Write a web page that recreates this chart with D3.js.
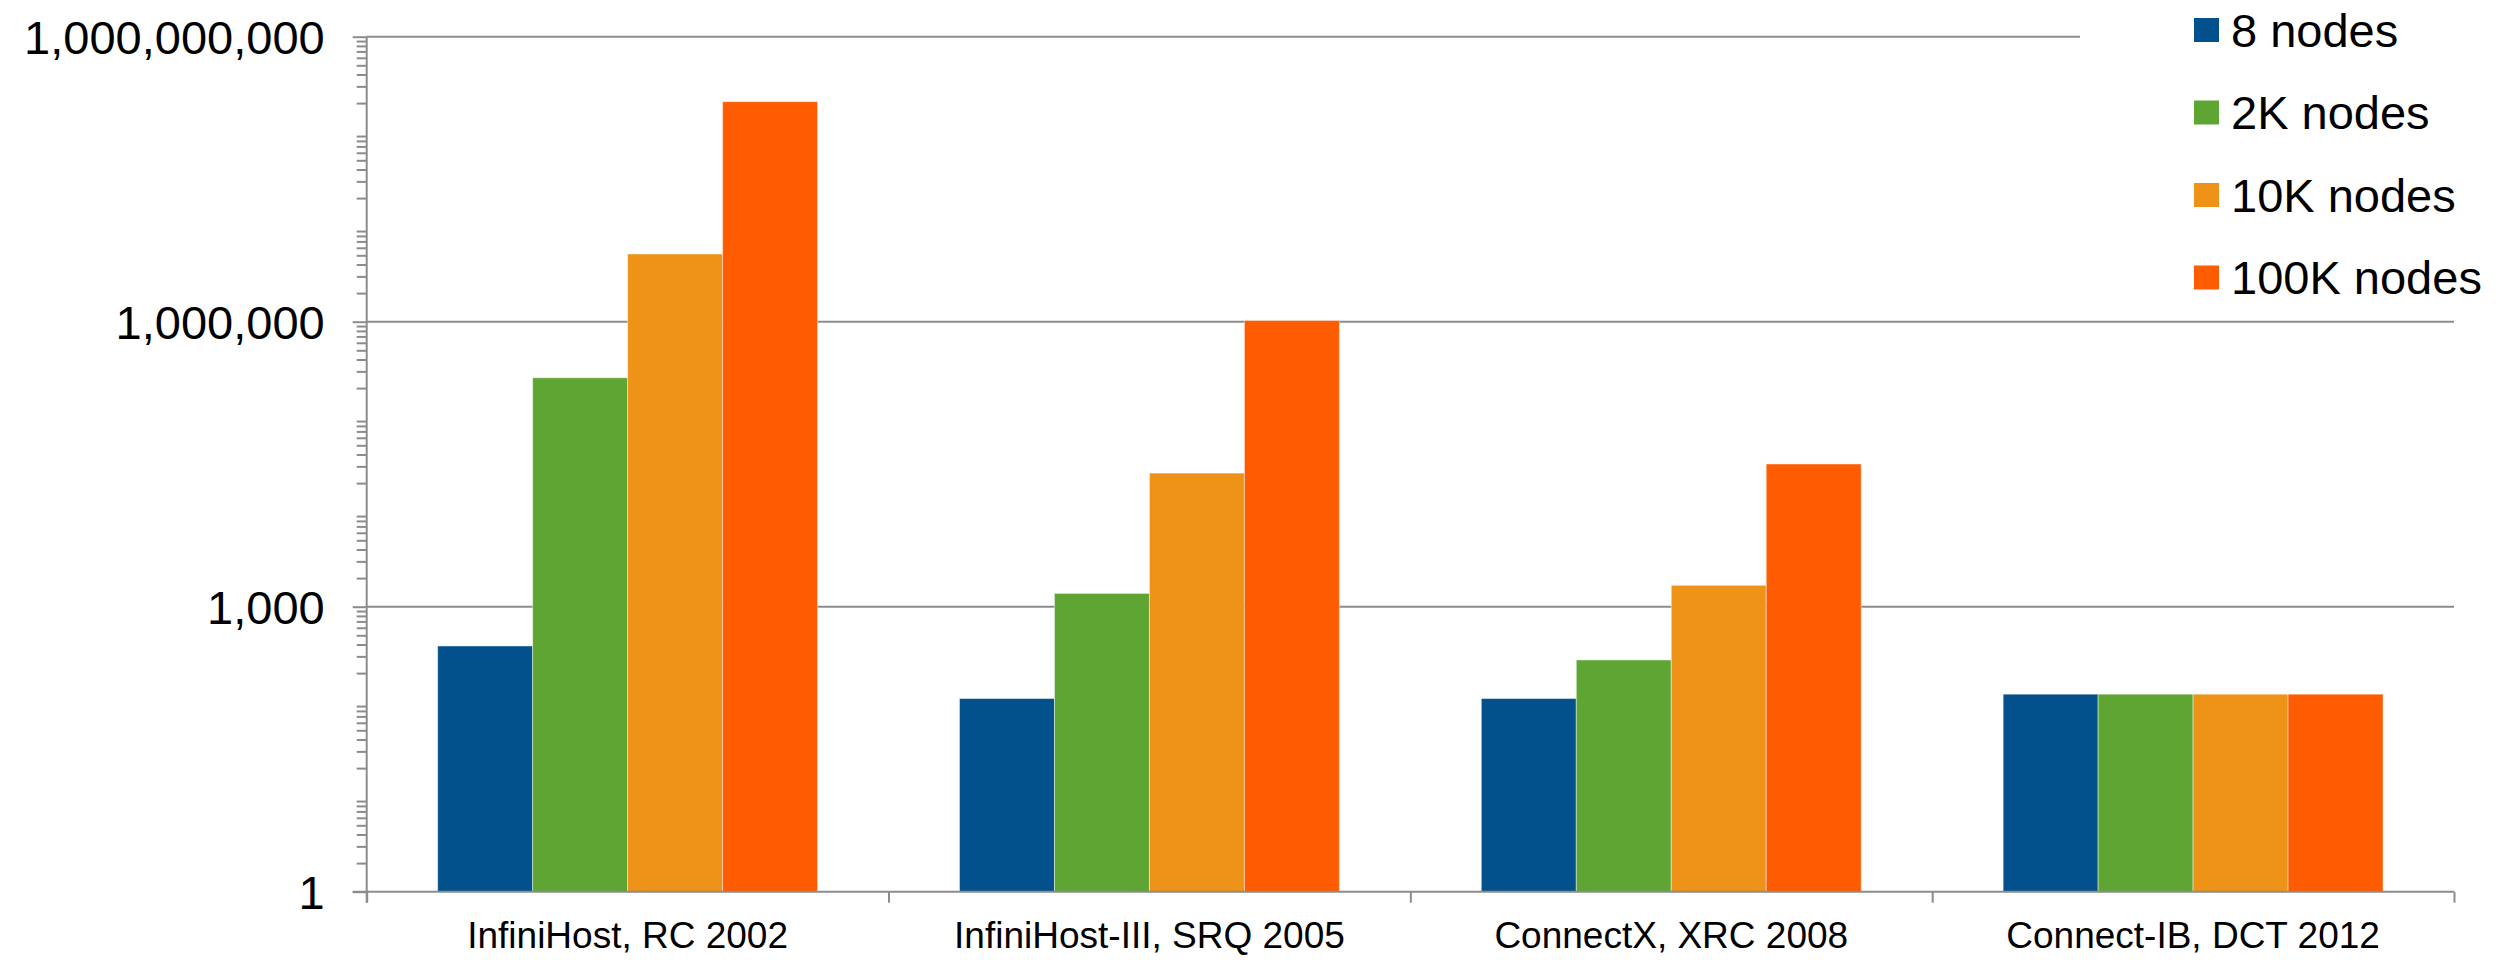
<!DOCTYPE html>
<meta charset="utf-8">
<script src="https://d3js.org/d3.v7.min.js"></script>
<style>
  body { margin: 0; background: #fff; }
  text { font-family: "Liberation Sans", Arial, sans-serif; fill: #000; }
</style>
<div id="chart"></div>
<script>
    // chart data
    const categories = ["InfiniHost, RC 2002", "InfiniHost-III, SRQ 2005", "ConnectX, XRC 2008", "Connect-IB, DCT 2012"];
    const seriesNames = ["8 nodes", "2K nodes", "10K nodes", "100K nodes"];
    const nodes8 = [386, 108, 108, 120];
    const nodes2K = [257000, 1380, 275, 120];
    const nodes10K = [5160000, 25500, 1680, 120];
    const nodes100K = [207000000, 1030000, 31800, 120];
    const seriesColors = ["#02518C", "#5EA534", "#EE9317", "#FF5B00"];
    const yTicks = [1, 1e3, 1e6, 1e9];

    const values = [nodes8, nodes2K, nodes10K, nodes100K];

    // dimensions
    const margin = {top: 36.7, right: 54, bottom: 68.3, left: 366.7},
        width = 2508 - margin.left - margin.right,
        height = 960 - margin.top - margin.bottom;

    const svg = d3.select("#chart")
      .append("svg")
        .attr("width", 2508)
        .attr("height", 960);

    const g = svg.append("g")
        .attr("transform", `translate(${margin.left},${margin.top})`);

    // scales
    const x = d3.scaleBand().domain(categories).range([0, width]);
    const groupPad = x.bandwidth() * 0.136;
    const xSub = d3.scaleBand().domain(seriesNames).range([groupPad, x.bandwidth() - groupPad]);
    const y = d3.scaleLog().domain([1, 1e9]).range([height, 0]);

    // gridlines (top one stops at legend)
    g.selectAll(".grid")
      .data(yTicks.slice(1))
      .join("line")
        .attr("x1", 0)
        .attr("x2", d => d === 1e9 ? 2080 - margin.left : width)
        .attr("y1", d => y(d))
        .attr("y2", d => y(d))
        .style("stroke", "#8c8c8c")
        .style("stroke-width", 2);

    // minor ticks on the log axis
    const minor = [];
    for (let e = 0; e < 9; e++) {
        for (let m = 2; m <= 9; m++) minor.push(m * Math.pow(10, e));
    }
    g.append("g")
        .call(d3.axisLeft(y).tickValues(minor).tickSize(10).tickFormat(""))
        .call(a => a.select(".domain").remove())
        .call(a => a.selectAll("line").style("stroke", "#8c8c8c").style("stroke-width", 2));

    // major ticks + labels
    g.append("g")
        .call(d3.axisLeft(y).tickValues(yTicks).tickSize(14).tickPadding(28).tickFormat(d3.format(",")))
        .call(a => a.select(".domain").remove())
        .call(a => a.selectAll("line").style("stroke", "#8c8c8c").style("stroke-width", 2))
        .call(a => a.selectAll("text").style("font-size", "47px").attr("dy", "0.36em"));

    // bars
    const group = g.selectAll(".grp")
      .data(categories)
      .join("g")
        .attr("transform", d => `translate(${x(d)},0)`);

    group.selectAll("rect")
      .data((d, i) => seriesNames.map((s, j) => ({s: s, v: values[j][i], c: seriesColors[j]})))
      .join("rect")
        .attr("x", d => xSub(d.s))
        .attr("width", xSub.bandwidth())
        .attr("y", d => y(d.v))
        .attr("height", d => height - y(d.v))
        .style("fill", d => d.c)
        .style("stroke", "rgba(255,255,255,0.45)")
        .style("stroke-width", 1);

    // y axis line
    g.append("line")
        .attr("x1", 0).attr("x2", 0)
        .attr("y1", 0).attr("y2", height + 11)
        .style("stroke", "#8c8c8c")
        .style("stroke-width", 2);

    // x axis: boundary ticks
    const xEdge = d3.scaleLinear().domain([0, categories.length]).range([0, width]);
    g.append("g")
        .attr("transform", `translate(0,${height})`)
        .call(d3.axisBottom(xEdge).ticks(categories.length).tickSize(11).tickSizeOuter(0).tickFormat(""))
        .call(a => a.select(".domain").remove())
        .call(a => a.selectAll("line").style("stroke", "#8c8c8c").style("stroke-width", 2));

    g.append("line")
        .attr("x1", -14).attr("x2", width)
        .attr("y1", height).attr("y2", height)
        .style("stroke", "#8c8c8c")
        .style("stroke-width", 2);

    // category labels
    g.append("g")
        .attr("transform", `translate(0,${height})`)
        .call(d3.axisBottom(x).tickSize(0).tickPadding(30))
        .call(a => a.select(".domain").remove())
        .call(a => a.selectAll("text").style("font-size", "37px").attr("dy", "0.71em"));

    // legend
    const legend = svg.append("g").attr("transform", "translate(2194,0)");
    const item = legend.selectAll(".item")
      .data(seriesNames)
      .join("g")
        .attr("transform", (d, i) => `translate(0,${30 + i * 82.5})`);

    item.append("rect")
        .attr("x", 0)
        .attr("y", -12)
        .attr("width", 25)
        .attr("height", 24)
        .style("fill", (d, i) => seriesColors[i]);

    item.append("text")
        .attr("x", 37)
        .attr("y", 0)
        .attr("dy", "0.36em")
        .style("font-size", "47px")
        .text(d => d);
</script>
